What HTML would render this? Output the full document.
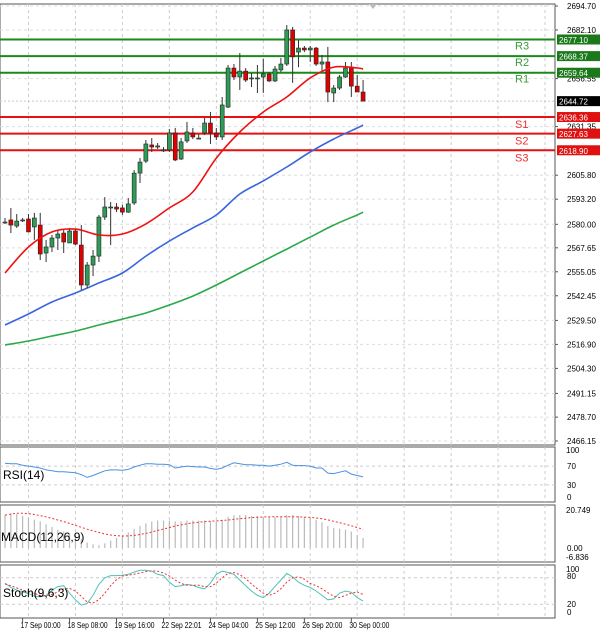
<!DOCTYPE html>
<html><head><meta charset="utf-8"><style>
body{margin:0;background:#fff;width:600px;height:632px;overflow:hidden;font-family:"Liberation Sans",sans-serif}
svg{display:block}
</style></head><body>
<svg id="c" width="600" height="632" xmlns="http://www.w3.org/2000/svg"></svg>
<script>
// ---- data ----
const opens=[2581.2,2582.3,2579.1,2582.3,2582.8,2578.6,2579.6,2564.9,2568.1,2572.8,2575.4,2570.2,2576.5,2569.1,2548.1,2558.6,2563.3,2583.8,2589.1,2589.1,2588.6,2586.4,2591.2,2606.9,2613.2,2621.7,2620.6,2619.1,2619.1,2628.0,2614.3,2623.8,2628.0,2625.3,2628.0,2633.2,2628.0,2625.9,2641.6,2662.1,2657.4,2660.5,2656.9,2656.9,2657.4,2659.0,2655.3,2661.1,2664.2,2682.1,2670.5,2672.6,2671.6,2672.6,2664.2,2665.3,2649.0,2651.6,2657.4,2662.6,2652.6,2649.5];
const highs=[2583.3,2588.6,2585.4,2583.3,2585.4,2586.0,2586.0,2571.8,2574.4,2577.0,2577.0,2578.1,2577.5,2579.6,2560.2,2566.5,2584.9,2594.3,2591.7,2591.2,2590.2,2593.8,2608.5,2614.8,2624.3,2625.3,2622.7,2620.6,2630.1,2630.6,2625.3,2633.8,2630.6,2627.4,2635.9,2639.0,2630.6,2646.9,2663.7,2664.2,2670.0,2662.1,2659.5,2663.7,2666.9,2660.0,2663.2,2667.4,2684.7,2683.7,2676.8,2673.7,2673.7,2673.2,2669.0,2673.2,2653.2,2658.5,2665.3,2665.3,2658.5,2655.8];
const lows=[2580.2,2575.4,2578.1,2581.2,2576.0,2571.8,2561.2,2560.2,2565.4,2566.5,2564.9,2570.2,2569.1,2545.5,2546.5,2552.8,2560.2,2582.3,2569.1,2586.4,2584.9,2586.0,2590.2,2601.7,2612.2,2618.0,2619.6,2618.0,2618.0,2613.2,2613.8,2622.7,2624.8,2624.8,2626.9,2622.2,2624.3,2624.3,2641.1,2655.8,2650.6,2654.8,2652.1,2649.0,2649.0,2654.8,2654.8,2660.0,2663.2,2654.3,2662.6,2670.5,2665.3,2663.2,2660.0,2644.2,2644.2,2650.6,2656.9,2646.9,2649.5,2644.7];
const closes=[2581.2,2579.6,2581.7,2582.3,2576.0,2583.3,2564.4,2568.1,2572.8,2574.9,2570.7,2576.5,2569.6,2548.1,2558.6,2563.3,2583.8,2589.1,2589.1,2588.0,2586.4,2590.7,2606.9,2612.7,2622.2,2620.6,2621.2,2619.1,2628.0,2613.8,2623.3,2628.5,2625.9,2625.3,2633.2,2628.0,2625.9,2642.7,2662.1,2657.4,2660.5,2655.8,2656.9,2656.9,2659.0,2655.3,2661.6,2664.2,2682.1,2668.0,2672.6,2671.6,2672.6,2664.2,2665.3,2649.5,2651.6,2657.4,2662.1,2652.6,2649.5,2644.72];
const maIdx=[0,4,8,12,16,20,24,28,32,36,40,44,48,52,56,60,61];
const maRed=[2554.4,2568.1,2576.0,2577.5,2574.4,2574.9,2580.2,2588.6,2597.0,2614.8,2628.5,2639.0,2646.9,2656.9,2662.6,2662.1,2661.6];
const maBlue=[2527.1,2532.9,2539.2,2543.9,2549.2,2554.4,2563.3,2571.2,2578.1,2584.9,2595.9,2602.8,2610.1,2618.0,2624.8,2630.6,2632.2];
const maGreen=[2516.6,2518.7,2521.3,2523.9,2527.1,2530.2,2533.4,2537.6,2542.3,2548.1,2554.4,2560.7,2567.0,2573.3,2579.6,2584.9,2586.4];
const resNames=["R3","R2","R1"], resVals=[2677.10,2668.37,2659.64];
const supNames=["S1","S2","S3"], supVals=[2636.36,2627.63,2618.90];
const priceTicks=[2694.70,2682.10,2656.55,2631.35,2605.80,2593.20,2580.00,2567.65,2555.05,2542.45,2529.50,2516.90,2504.30,2491.15,2478.70,2466.15];
const lastPrice=2644.72;
const timeLabels=["20:00","17 Sep 00:00","18 Sep 08:00","19 Sep 16:00","22 Sep 22:01","24 Sep 04:00","25 Sep 12:00","26 Sep 20:00","30 Sep 00:00"];
const timeIdx=[-4,3,11,19,27,35,43,51,59];
const rsi=[76,75,75,72,70,68,66,62,60,58,58,57,56,52,46,50,55,60,62,62,61,63,68,72,75,75,74,74,73,66,68,70,69,68,68,65,63,66,72,77,75,73,73,72,72,70,72,74,78,72,71,71,70,66,66,55,54,57,60,53,50,47];
const macdHist=[18,19,18.5,17.5,16.5,15.5,14.5,13,11.5,10,9,8,6.5,5,3,2,1.5,2.5,4,5.5,7,8.5,10.5,12,13.5,14.5,15,15,15,14.5,14.5,15,15,15,15,14.5,14.5,15.5,17,18,18,18,17.5,17.5,17,17,17,17,18,18,17.5,17,16.5,15.5,14,12,11,10.5,10,9,7,5.5];
const macdSig=[18,18.5,19,19,18.8,18.3,17.7,17,16.2,15.3,14.4,13.4,12.4,11.3,10.3,9.4,8.5,7.7,7.1,6.7,6.5,6.6,6.9,7.4,8,8.8,9.6,10.4,11.2,12,12.6,13.2,13.7,14.1,14.4,14.6,14.8,15,15.3,15.7,16,16.3,16.6,16.8,17,17,17.1,17.1,17.1,17.1,17,16.9,16.7,16.4,16,15.4,14.6,13.8,13,12.2,11.2,10.2];
const stochK=[68,58,52,48,44,38,37,40,52,60,62,45,30,18,22,40,65,80,85,85,86,88,93,97,97,95,88,85,70,60,62,65,63,58,55,68,88,95,92,88,75,62,50,40,35,45,60,75,90,82,70,63,58,50,40,30,32,45,50,47,35,27];
const stochD=[66,62,57,52,48,44,40,39,42,48,55,56,50,38,25,23,30,45,62,76,84,86,88,91,94,96,95,91,84,75,67,63,63,63,60,60,68,80,90,92,87,78,66,55,45,40,45,55,70,80,82,77,67,62,55,46,38,35,40,45,48,42];

// ---- axes ----
const PW=555;
const X=i=>5+i*5.87;
const Y=p=>6+(2694.70-p)*1.9033;
const YR=v=>499-v*0.47;
const YM=v=>548-v*1.83;
const YS=v=>613-v*0.44;
const svg=document.getElementById('c');
const NS='http://www.w3.org/2000/svg';
function el(t,a,p){const e=document.createElementNS(NS,t);for(const k in a)e.setAttribute(k,a[k]);(p||svg).appendChild(e);return e;}
function txt(s,x,y,a,p){const e=el('text',Object.assign({x:x,y:y,'font-size':9,fill:'#000'},a||{}),p);e.textContent=s;return e;}
function smooth(pts){let d='M'+pts[0][0].toFixed(1)+' '+pts[0][1].toFixed(1);
  for(let i=0;i<pts.length-1;i++){const p0=pts[Math.max(0,i-1)],p1=pts[i],p2=pts[i+1],p3=pts[Math.min(pts.length-1,i+2)];
    const c1=[p1[0]+(p2[0]-p0[0])/6,p1[1]+(p2[1]-p0[1])/6],c2=[p2[0]-(p3[0]-p1[0])/6,p2[1]-(p3[1]-p1[1])/6];
    d+=' C'+c1[0].toFixed(1)+' '+c1[1].toFixed(1)+' '+c2[0].toFixed(1)+' '+c2[1].toFixed(1)+' '+p2[0].toFixed(1)+' '+p2[1].toFixed(1);}
  return d;}

const pTop=[4,447,505,565], pBot=[445,502,562,618], pNames=['price-panel','rsi-panel','macd-panel','stoch-panel'];
for(let k=0;k<4;k++){
  const r=el('rect',{x:0,y:pTop[k],width:PW,height:pBot[k]-pTop[k],fill:'#fff',stroke:'#555','stroke-width':1});
  
  
}
for(let g=-4;g<100;g+=8){const x=X(g);if(x<0||x>PW)continue;
  for(let k=0;k<4;k++){el('line',{x1:x,x2:x,y1:pTop[k],y2:pBot[k],stroke:'#ccc','stroke-dasharray':'3,3','stroke-width':1});}}
priceTicks.forEach(p=>{const y=Y(p);el('line',{x1:0,x2:PW,y1:y,y2:y,stroke:'#ddd','stroke-dasharray':'3,3'});});
[30,70].forEach(v=>el('line',{x1:0,x2:PW,y1:YR(v),y2:YR(v),stroke:'#ccc','stroke-dasharray':'3,3'}));
[20,80].forEach(v=>el('line',{x1:0,x2:PW,y1:YS(v),y2:YS(v),stroke:'#ccc','stroke-dasharray':'3,3'}));

const ax=el('g',{});
priceTicks.forEach(p=>{const y=Y(p);el('line',{x1:PW,x2:PW+3,y1:y,y2:y,stroke:'#555'},ax);txt(p.toFixed(2),PW+12,y+3,{'font-size':8},ax);});

function level(names,vals,col,boxcol,tc,prefix,off){
  vals.forEach((v,i)=>{const y=Y(v);
    const g=el('g',{});
    el('line',{x1:0,x2:PW,y1:y,y2:y,stroke:col,'stroke-width':2},g);
    el('rect',{x:PW+2,y:y-5,width:43,height:10,fill:boxcol},g);
    txt(v.toFixed(2),PW+4,y+3.5,{'font-size':8,fill:'#fff'},g);
    txt(names[i],515,y+off,{'font-size':11,fill:tc},g);
  });
}
level(resNames,resVals,'#1a8a1a','#1a7a1a','#3a9a3a','resistance',10);
level(supNames,supVals,'#e81010','#e01010','#f03030','support',11);
{const y=Y(lastPrice);const g=el('g',{});
 el('line',{x1:0,x2:PW,y1:y,y2:y,stroke:'#ccc','stroke-dasharray':'2,2'},g);
 el('rect',{x:PW+2,y:y-5,width:43,height:10,fill:'#000'},g);txt(lastPrice.toFixed(2),PW+4,y+3.5,{'font-size':8,fill:'#fff'},g);}

function ma(vals,col,name){const d=smooth(vals.map((v,k)=>[X(maIdx[k]),Y(v)]));
  const p=el('path',{d:d,fill:'none',stroke:col,'stroke-width':1.6});}
ma(maGreen,'#2aa84a','ma-green');ma(maBlue,'#3a66dd','ma-blue');

const cg=el('g',{});
closes.forEach((c,i)=>{const o=opens[i],x=X(i);const up=c>=o;
  const g=el('g',{},cg);
  el('line',{x1:x,x2:x,y1:Y(highs[i]),y2:Y(lows[i]),stroke:'#333','stroke-width':1},g);
  const t=Math.min(Y(o),Y(c)),h=Math.max(1,Math.abs(Y(o)-Y(c)));
  el('rect',{x:x-2,y:t,width:4,height:h,fill:up?'#2e9b57':'#e00000',stroke:'#222','stroke-width':0.6},g);
});
ma(maRed,'#ee1111','ma-red');

{const d=rsi.map((v,i)=>(i?'L':'M')+X(i).toFixed(1)+' '+YR(v).toFixed(1)).join(' ');
 const p=el('path',{d:d,fill:'none',stroke:'#4a90e2','stroke-width':1});
 const t=txt('RSI(14)',3,479,{'font-size':12});
 txt('100',566,453,{'font-size':8});txt('70',567,YR(70)+3,{'font-size':8});txt('30',567,YR(30)+3,{'font-size':8});txt('0',567,500,{'font-size':8});}
{const g=el('g',{});
 macdHist.forEach((v,i)=>{const b=el('rect',{x:X(i)-0.6,y:Math.min(YM(v),YM(0)),width:1.2,height:Math.abs(YM(v)-YM(0)),fill:'#bbb'},g);
   });
 const d=macdSig.map((v,i)=>(i?'L':'M')+X(i).toFixed(1)+' '+YM(v).toFixed(1)).join(' ');
 const p=el('path',{d:d,fill:'none',stroke:'#e33','stroke-width':1,'stroke-dasharray':'2,2'});
 const t=txt('MACD(12,26,9)',1,541,{'font-size':12});
 txt('20.749',566,513,{'font-size':8});txt('0.00',567,551,{'font-size':8});txt('-6.836',566,560,{'font-size':8});}
{const d1=stochK.map((v,i)=>(i?'L':'M')+X(i).toFixed(1)+' '+YS(v).toFixed(1)).join(' ');
 const p=el('path',{d:d1,fill:'none',stroke:'#4fc3b8','stroke-width':1});
 const d2=stochD.map((v,i)=>(i?'L':'M')+X(i).toFixed(1)+' '+YS(v).toFixed(1)).join(' ');
 const q=el('path',{d:d2,fill:'none',stroke:'#e33','stroke-width':1,'stroke-dasharray':'2,2'});
 const t=txt('Stoch(9,6,3)',3,597,{'font-size':12});
 txt('100',566,572,{'font-size':8});txt('80',567,579,{'font-size':8});txt('20',567,607,{'font-size':8});txt('0',567,615,{'font-size':8});}
{const g=el('g',{});
 timeLabels.forEach((s,k)=>{const x=X(timeIdx[k]);el('line',{x1:x,x2:x,y1:618,y2:622,stroke:'#555'},g);
   const w=s.length>6?40:18;txt(s,s.length>6?x-2:x-w+2,628,{'font-size':8,textLength:w,lengthAdjust:'spacingAndGlyphs'},g);});}
el('path',{d:'M369 4 L377 4 L373 9 Z',fill:'#bbb'});
</script>
</body></html>
